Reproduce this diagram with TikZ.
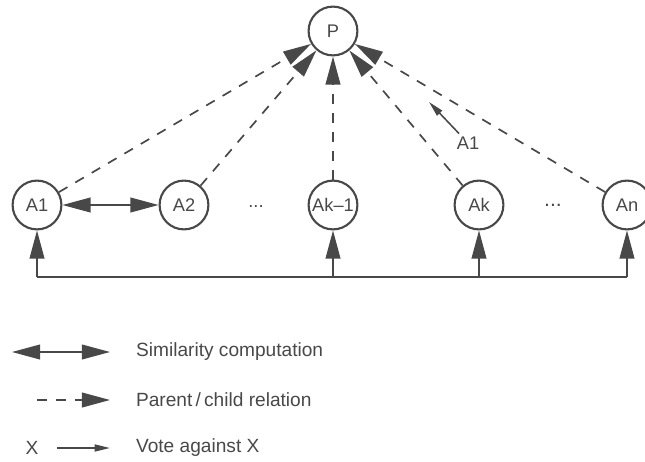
\documentclass[tikz,border=0pt]{standalone}
\usepackage{fontspec}
\setmainfont{Liberation Sans}
\usetikzlibrary{arrows.meta, positioning}
\definecolor{ink}{RGB}{72,72,72}

\begin{document}
\begin{tikzpicture}[
    x=0.025cm, y=-0.025cm,
    font=\fontsize{13}{15}\selectfont,
    agent/.style={circle, draw=ink, line width=1.5pt, minimum size=1.22cm, inner sep=0pt, text=ink},
    lbl/.style={text=ink, inner sep=2pt},
    legtext/.style={lbl, anchor=west, font=\fontsize{13.6}{16}\selectfont},
    parent/.style={-{Triangle[length=20pt, width=10.5pt]}, dash pattern=on 7pt off 6.5pt, draw=ink, line width=1.2pt},
    simil/.style={{Triangle[length=20pt, width=10.5pt]}-{Triangle[length=20pt, width=10.5pt]}, draw=ink, line width=1.1pt},
    uparrow/.style={-{Triangle[length=20pt, width=10.5pt]}, draw=ink, line width=1.1pt},
    vote/.style={-{Triangle[length=11pt, width=5pt]}, draw=ink, line width=1.1pt},
    bus/.style={draw=ink, line width=1.1pt},
  ]
  \useasboundingbox (0,0) rectangle (645,461);

  \node[agent] (p) at (333,31) {P};
  \node[agent] (a1) at (37,205) {A1};
  \node[agent] (a2) at (184,205) {A2};
  \node[agent] (akm) at (333,205) {Ak--1};
  \node[agent] (ak) at (479,205) {Ak};
  \node[agent] (an) at (627,205) {An};
  \node[lbl] (dots1) at (256,207) {...};
  \node[lbl, font=\fontsize{15}{16}\selectfont] (dots2) at (553,205) {...};

  \foreach \n in {a1,a2,akm,ak,an}
    \draw[parent] (\n) -- (p);
  \draw[simil] (a1) -- (a2);

  \coordinate (bus) at (0,277);
  \draw[bus] (a1|-bus) -- (an|-bus);
  \foreach \n in {a1,akm,ak,an}
    \draw[uparrow] (\n|-bus) -- (\n);

  \node[lbl] (vlab) at (468,143) {A1};
  \coordinate (vtip) at (429,102);
  \draw[vote] (vlab) -- (vtip);

  % legend
  \node[legtext] (t1) at (133,352) {Similarity computation};
  \node[legtext] (t2) at (133,400) {Parent\,/\,child relation};
  \node[legtext] (t3) at (133,448) {Vote against X};
  \node[lbl, font=\fontsize{13.6}{16}\selectfont] (xl) at (32,448) {X};
  \coordinate (s1a) at (12,352);
  \coordinate (s1b) at (110,352);
  \coordinate (s2a) at (37,400);
  \coordinate (s2b) at (110,400);
  \coordinate (s3a) at (57,448);
  \coordinate (s3b) at (110,448);
  \draw[simil] (s1a) -- (s1b);
  \draw[parent] (s2a) -- (s2b);
  \draw[vote] (s3a) -- (s3b);

\end{tikzpicture}
\end{document}
